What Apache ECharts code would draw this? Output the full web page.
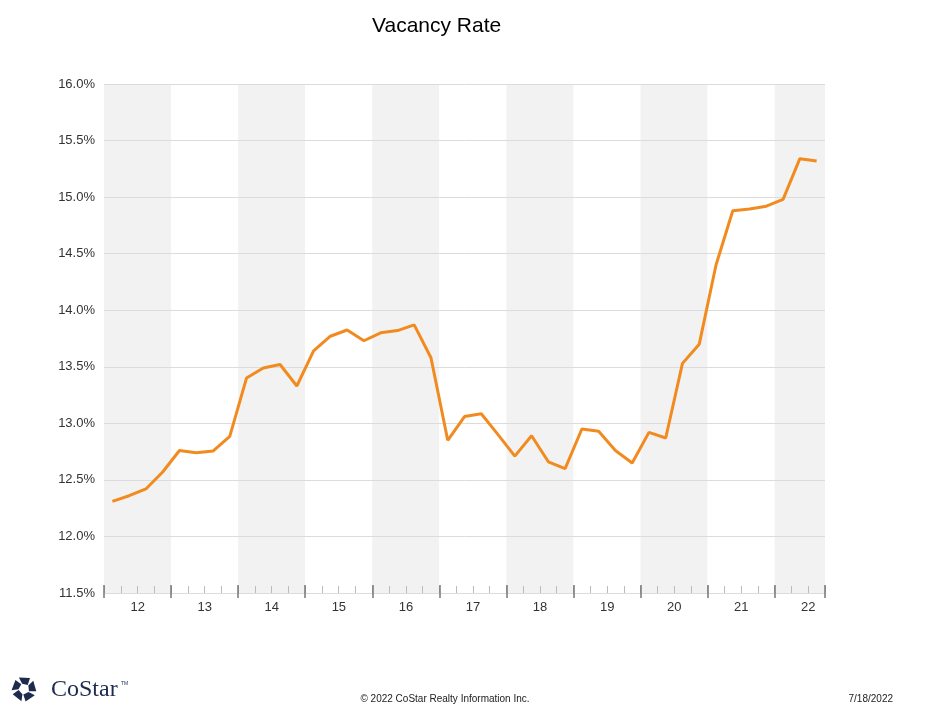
<!DOCTYPE html>
<html>
<head>
<meta charset="utf-8">
<script src="https://cdn.jsdelivr.net/npm/echarts@6/dist/echarts.min.js"></script>
<style>
html,body{margin:0;padding:0;background:#fff;}
#chart{width:936px;height:718px;}
</style>
</head>
<body>
<div id="chart"></div>
<script>
var titleText = 'Vacancy Rate';
var quarters = [
  '2012 Q1','2012 Q2','2012 Q3','2012 Q4',
  '2013 Q1','2013 Q2','2013 Q3','2013 Q4',
  '2014 Q1','2014 Q2','2014 Q3','2014 Q4',
  '2015 Q1','2015 Q2','2015 Q3','2015 Q4',
  '2016 Q1','2016 Q2','2016 Q3','2016 Q4',
  '2017 Q1','2017 Q2','2017 Q3','2017 Q4',
  '2018 Q1','2018 Q2','2018 Q3','2018 Q4',
  '2019 Q1','2019 Q2','2019 Q3','2019 Q4',
  '2020 Q1','2020 Q2','2020 Q3','2020 Q4',
  '2021 Q1','2021 Q2','2021 Q3','2021 Q4',
  '2022 Q1','2022 Q2','2022 Q3'
];
var vacancy = [
  12.31, 12.36, 12.42, 12.57,
  12.76, 12.74, 12.755, 12.885,
  13.40, 13.49, 13.52, 13.33,
  13.64, 13.77, 13.825, 13.73,
  13.80, 13.82, 13.87, 13.58,
  12.85, 13.06, 13.085, 12.90,
  12.71, 12.89, 12.66, 12.60,
  12.95, 12.93, 12.76, 12.65,
  12.92, 12.87, 13.53, 13.70,
  14.40, 14.88, 14.895, 14.92,
  14.98, 15.34, 15.32
];
var yMin = 11.5, yMax = 16.0, yStep = 0.5;
var footerCopyright = '\u00A9 2022 CoStar Realty Information Inc.';
var footerDate = '7/18/2022';
var brandName = 'CoStar';

var chart = echarts.init(document.getElementById('chart'), null, {renderer: 'canvas'});

// logo polygons (decoration)
var logoCx = 24, logoCy = 689, R = 12.5, r = 5.5;
var logoShapes = [];
for (var k = 0; k < 5; k++) {
  var a = (-90 + 72 * k) * Math.PI / 180;
  var pts = [
    [logoCx + R * Math.cos(a - 0.42), logoCy + R * Math.sin(a - 0.42)],
    [logoCx + R * Math.cos(a + 0.5), logoCy + R * Math.sin(a + 0.5)],
    [logoCx + r * Math.cos(a + 0.75), logoCy + r * Math.sin(a + 0.75)],
    [logoCx + r * Math.cos(a - 0.35), logoCy + r * Math.sin(a - 0.35)]
  ];
  logoShapes.push({type: 'polygon', shape: {points: pts}, style: {fill: '#1e2b4f'}, silent: true});
}

var font = '"Liberation Sans", Arial, Helvetica, sans-serif';

var option = {
  animation: false,
  backgroundColor: '#ffffff',
  grid: {left: 104, right: 111, top: 84, bottom: 125, containLabel: false},
  xAxis: [
    {
      type: 'category',
      data: quarters,
      boundaryGap: true,
      position: 'bottom',
      z: 0,
      axisLine: {show: true, lineStyle: {color: '#dddddd', width: 1}},
      axisTick: {show: true, inside: true, length: 7, interval: 0, lineStyle: {color: '#bbbbbb', width: 1}},
      axisLabel: {
        show: true,
        interval: function (i) { return i % 4 === 1; },
        formatter: function (v) { return v.slice(2, 4); },
        padding: [0, 0, 0, 17],
        margin: 8,
        fontSize: 13,
        color: '#333333',
        fontFamily: font
      },
      splitLine: {show: false},
      splitArea: {show: true, interval: 3, areaStyle: {color: ['#f2f2f2', '#ffffff']}}
    },
    {
      type: 'category',
      data: quarters,
      boundaryGap: true,
      position: 'bottom',
      z: 3,
      axisLine: {show: false},
      axisTick: {show: true, inside: true, length: 8, interval: 3, lineStyle: {color: '#777777', width: 1.5}},
      axisLabel: {show: false},
      splitLine: {show: false},
      splitArea: {show: false}
    },
    {
      type: 'category',
      data: quarters,
      boundaryGap: true,
      position: 'bottom',
      z: 3,
      axisLine: {show: false},
      axisTick: {show: true, inside: false, length: 5, interval: 3, lineStyle: {color: '#777777', width: 1.5}},
      axisLabel: {show: false},
      splitLine: {show: false},
      splitArea: {show: false}
    }
  ],
  yAxis: {
    type: 'value',
    min: yMin,
    max: yMax,
    interval: yStep,
    z: 2,
    axisLine: {show: false},
    axisTick: {show: false},
    axisLabel: {
      formatter: function (v) { return v.toFixed(1) + '%'; },
      fontSize: 13,
      color: '#333333',
      margin: 9,
      fontFamily: font
    },
    splitLine: {show: true, lineStyle: {color: '#dcdcdc', width: 1}}
  },
  series: [{
    type: 'line',
    xAxisIndex: 0,
    data: vacancy,
    symbol: 'none',
    smooth: false,
    lineStyle: {color: '#f28b1f', width: 3},
    itemStyle: {color: '#f28b1f'},
    z: 5
  }],
  graphic: [
    {type: 'text', left: 372, top: 16, style: {text: titleText, font: '21px ' + font, fill: '#000000'}, silent: true},
    {type: 'text', x: 445, y: 699, style: {text: footerCopyright, font: '10px ' + font, fill: '#222222', textAlign: 'center', textVerticalAlign: 'middle'}, silent: true},
    {type: 'text', x: 893, y: 699, style: {text: footerDate, font: '10px ' + font, fill: '#222222', textAlign: 'right', textVerticalAlign: 'middle'}, silent: true},
    {type: 'text', x: 51, y: 690, style: {text: brandName, font: '24px "Liberation Serif", "DejaVu Serif", serif', fill: '#1e2b4f', textAlign: 'left', textVerticalAlign: 'middle'}, silent: true},
    {type: 'text', x: 121, y: 684, style: {text: 'TM', font: '5px ' + font, fill: '#1e2b4f', textAlign: 'left', textVerticalAlign: 'middle'}, silent: true}
  ].concat(logoShapes)
};
chart.setOption(option);
</script>
</body>
</html>
